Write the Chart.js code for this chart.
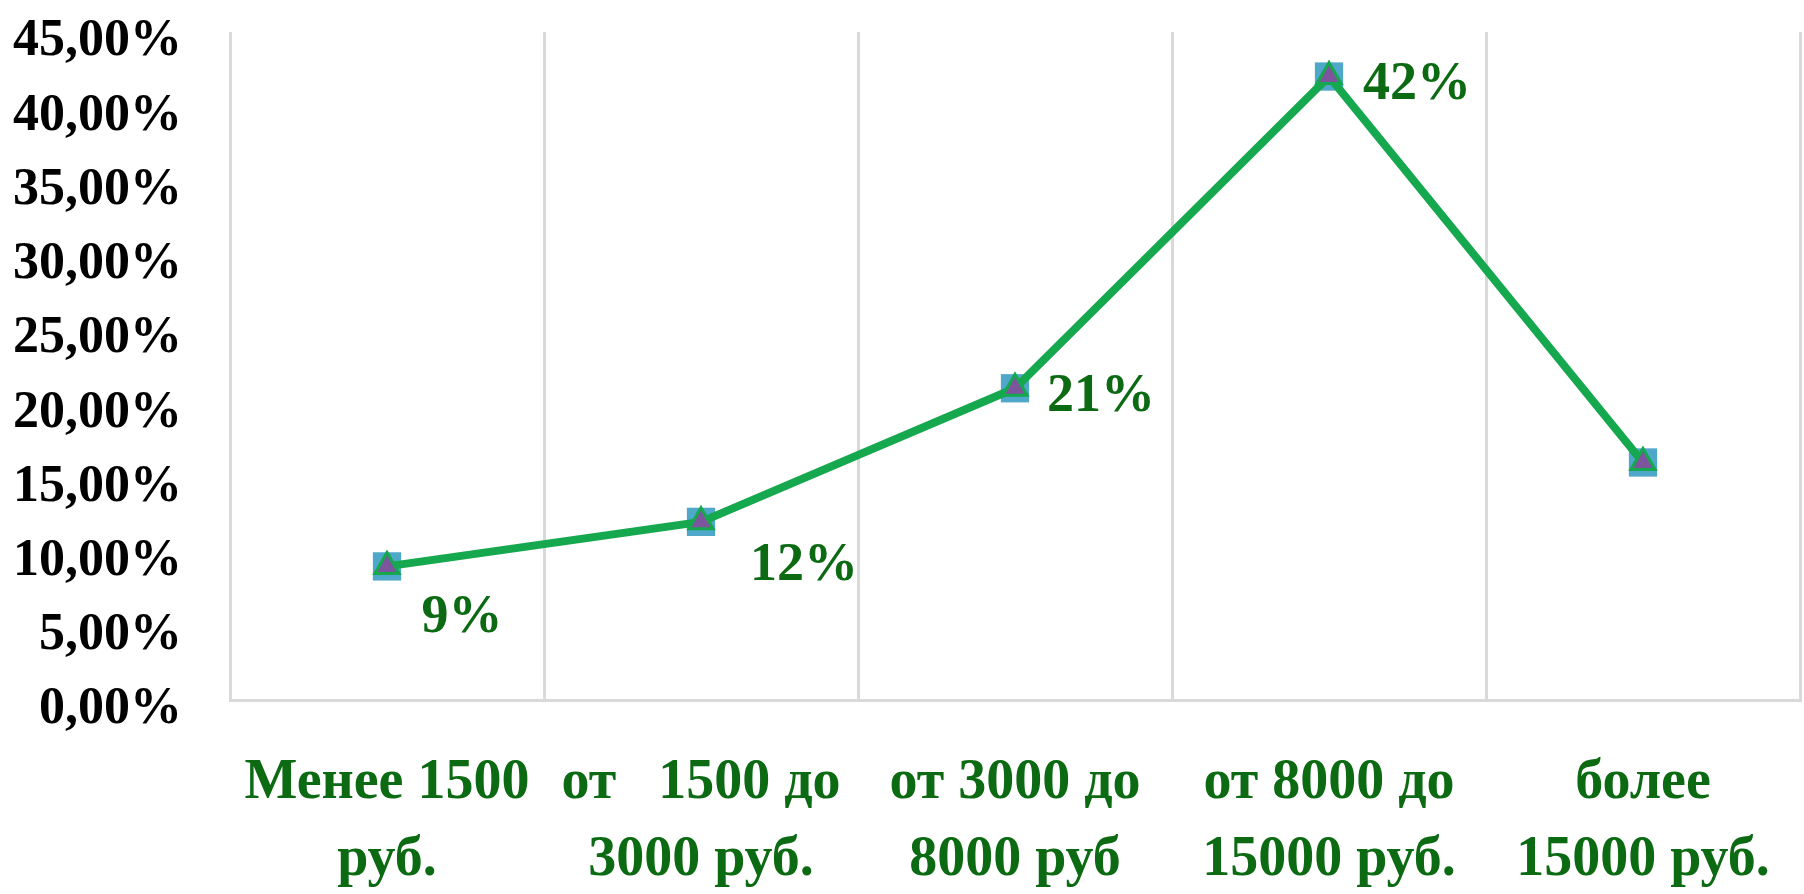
<!DOCTYPE html>
<html>
<head>
<meta charset="utf-8">
<script src="https://cdn.jsdelivr.net/npm/chart.js@4.4.1/dist/chart.umd.min.js"></script>
<style>
    html, body { margin: 0; padding: 0; background: #fff; overflow: hidden; }
    #wrap { width: 1804px; height: 894px; position: relative; }
    canvas { display: block; }
</style>
</head>
<body>
<div id="wrap"><canvas id="chart"></canvas></div>
<script>
// Price ranges (two lines each, as in the picture)
const categories = [
    ['Менее 1500', 'руб.'],
    ['от   1500 до', '3000 руб.'],
    ['от 3000 до', '8000 руб'],
    ['от 8000 до', '15000 руб.'],
    ['более', '15000 руб.']
];
const shares = [9, 12, 21, 42, 16];
const pointLabels = ['9%', '12%', '21%', '42%', ''];
const yMax = 45;
const yStep = 5;

const GREEN_TEXT = '#0b6a12';
const GRID = '#d9d9d9';

// label offsets from each point (dx, dy), centre of the text
const labelOffsets = [[75, 52], [103, 44], [86, 9], [88, 9], [0, 0]];

const pointLabelPlugin = {
    id: 'pointLabels',
    afterDatasetsDraw(chart) {
        const meta = chart.getDatasetMeta(0);
        const ctx = chart.ctx;
        ctx.save();
        ctx.font = 'bold 54px "Liberation Serif", "Times New Roman", serif';
        ctx.fillStyle = GREEN_TEXT;
        ctx.textAlign = 'center';
        ctx.textBaseline = 'middle';
        meta.data.forEach((pt, i) => {
            if (!pointLabels[i]) return;
            const off = labelOffsets[i];
            ctx.fillText(pointLabels[i], pt.x + off[0], pt.y + off[1]);
        });
        ctx.restore();
    }
};

new Chart(document.getElementById('chart').getContext('2d'), {
    type: 'line',
    data: {
        labels: categories,
        datasets: [
            {
                label: 'line',
                data: shares,
                borderColor: '#16a84e',
                borderWidth: 8,
                pointStyle: 'triangle',
                pointRadius: 14,
                pointBackgroundColor: '#7d559c',
                pointBorderColor: '#16a84e',
                pointBorderWidth: 3,
                tension: 0
            },
            {
                label: 'markers',
                data: shares,
                showLine: false,
                pointStyle: 'rect',
                pointRadius: 20,
                pointBackgroundColor: '#4fa7c9',
                pointBorderColor: '#4fa7c9',
                pointBorderWidth: 0
            }
        ]
    },
    options: {
        responsive: true,
        maintainAspectRatio: false,
        animation: false,
        layout: { autoPadding: false, padding: { left: 8, right: 4, top: 32, bottom: 0 } },
        plugins: {
            legend: { display: false },
            tooltip: { enabled: false }
        },
        scales: {
            x: {
                offset: true,
                grid: { offset: true, color: GRID, lineWidth: 3, drawTicks: false },
                border: { display: true, color: GRID, width: 3 },
                ticks: {
                    autoSkip: false,
                    maxRotation: 0,
                    padding: 45,
                    color: GREEN_TEXT,
                    font: { family: '"Liberation Serif", "Times New Roman", serif', size: 56, weight: 'bold', lineHeight: 1.375 }
                },
                afterFit(scale) {
                    scale.height = 194;
                    scale.paddingLeft = 0;
                    scale.paddingRight = 0;
                }
            },
            y: {
                min: 0,
                max: yMax,
                grid: { display: false, drawTicks: false },
                border: { display: false },
                ticks: {
                    stepSize: yStep,
                    padding: 48,
                    labelOffset: 10,
                    color: '#000',
                    font: { family: '"Liberation Serif", "Times New Roman", serif', size: 52, weight: 'bold' },
                    callback: v => v.toFixed(2).replace('.', ',') + '%'
                },
                afterFit(scale) {
                    scale.width = 222;
                    scale.paddingTop = 0;
                    scale.paddingBottom = 0;
                }
            }
        }
    },
    plugins: [pointLabelPlugin]
});
</script>
</body>
</html>
